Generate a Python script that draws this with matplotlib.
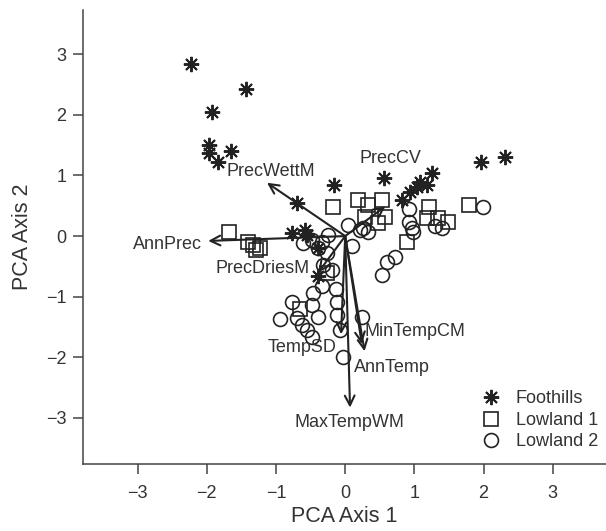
import matplotlib
matplotlib.use('Agg')
import matplotlib.pyplot as plt
from matplotlib.lines import Line2D

plt.rcParams['font.family'] = ['Liberation Sans', 'DejaVu Sans']

# PCA scores
foot_x = [-2.23, -1.43, -1.92, -1.97, -1.97, -1.84, -1.65, -0.69, -0.16, -0.77, -0.58,
          -0.55, -0.40, -0.39, 0.56, 1.97, 2.31, 1.26, 1.08, 1.04, 1.18, 0.94, 0.82]
foot_y = [2.84, 2.43, 2.05, 1.51, 1.37, 1.23, 1.41, 0.55, 0.85, 0.05, 0.10,
          0.02, -0.19, -0.66, 0.96, 1.23, 1.31, 1.04, 0.90, 0.81, 0.85, 0.73, 0.60]

low1_x = [-1.68, -1.40, -1.33, -1.23, -1.29, -0.17, 0.19, 0.53, 0.33, 0.29, 0.58,
          0.48, 0.90, 1.21, 1.18, 1.34, 1.49, 1.79, -0.26, -0.65]
low1_y = [0.07, -0.10, -0.14, -0.19, -0.23, 0.48, 0.60, 0.60, 0.52, 0.32, 0.32,
          0.22, -0.09, 0.48, 0.30, 0.30, 0.24, 0.52, -0.61, -1.21]

low2_x = [1.99, 1.30, 1.40, 0.92, 0.92, 0.97, 0.98, 0.72, 0.61, 0.53, 0.33, 0.26,
          0.04, 0.10, -0.25, -0.33, -0.39, -0.26, -0.48, -0.61, -0.19, -0.33, -0.46,
          -0.48, -0.77, -0.94, -0.69, -0.62, -0.55, -0.48, -0.40, -0.14, -0.12, -0.12,
          -0.07, -0.03, 0.25, -0.32, 0.22]
low2_y = [0.48, 0.16, 0.14, 0.45, 0.24, 0.14, 0.06, -0.34, -0.43, -0.64, 0.06, 0.14,
          0.19, -0.17, 0.02, -0.09, -0.19, -0.28, -0.06, -0.11, -0.56, -0.83, -0.94,
          -1.13, -1.08, -1.37, -1.35, -1.46, -1.55, -1.66, -1.33, -0.88, -1.08, -1.30,
          -1.55, -1.99, -1.33, -0.48, 0.10]

# variable loadings (arrow tips) and label positions
var_names = ['AnnPrec', 'PrecWettM', 'PrecDriesM', 'PrecCV', 'TempSD',
             'MinTempCM', 'AnnTemp', 'MaxTempWM']
tip_x = [-1.98, -1.13, -0.39, 0.58, -0.06, 0.24, 0.28, 0.07]
tip_y = [-0.08, 0.88, -0.60, 0.49, -1.62, -1.78, -1.90, -2.83]
lab_x = [-2.57, -1.07, -1.20, 0.66, -0.62, 1.01, 0.68, 0.06]
lab_y = [-0.14, 1.06, -0.54, 1.28, -1.83, -1.58, -2.16, -3.08]

ink = '#222222'
txt = '#333333'

fig = plt.figure(figsize=(6.06, 5.31), dpi=100)
ax = fig.add_axes([83 / 606, 1 - 464 / 531, 523 / 606, 454 / 531])

star = (8, 2, 0)
ax.plot(foot_x, foot_y, ls='none', marker=star, ms=11, mew=1.4, mec=ink, mfc='none')
ax.plot(low1_x, low1_y, ls='none', marker='s', ms=10, mew=1.2, mec=ink, mfc='none')
ax.plot(low2_x, low2_y, ls='none', marker='o', ms=10, mew=1.2, mec=ink, mfc='none')

for name, tx, ty, lx, ly in zip(var_names, tip_x, tip_y, lab_x, lab_y):
    ax.annotate('', xy=(tx, ty), xytext=(0, 0),
                arrowprops=dict(arrowstyle='->,head_length=0.7,head_width=0.35',
                                lw=1.5, color=ink, shrinkA=0, shrinkB=0))
    ax.text(lx, ly, name, ha='center', va='center', fontsize=13, color=txt)

ax.set_xlim(-3.79, 3.77)
ax.set_ylim(-3.76, 3.73)
ax.set_xticks([-3, -2, -1, 0, 1, 2, 3])
ax.set_yticks([-3, -2, -1, 0, 1, 2, 3])
for s in ['top', 'right']:
    ax.spines[s].set_visible(False)
for s in ['left', 'bottom']:
    ax.spines[s].set_color('#444444')
    ax.spines[s].set_linewidth(1.1)
ax.tick_params(direction='out', length=7, width=1.1, color='#444444',
               labelsize=13, labelcolor=txt)
ax.tick_params(axis='x', pad=8)
ax.tick_params(axis='y', pad=5)
ax.set_xlabel('PCA Axis 1', fontsize=15.5, color=txt, labelpad=3)
ax.set_ylabel('PCA Axis 2', fontsize=15.5, color=txt, labelpad=9)

handles = [
    Line2D([], [], ls='none', marker=star, ms=11, mew=1.4, mec=ink, mfc='none'),
    Line2D([], [], ls='none', marker='s', ms=10, mew=1.2, mec=ink, mfc='none'),
    Line2D([], [], ls='none', marker='o', ms=10, mew=1.2, mec=ink, mfc='none'),
]
leg = ax.legend(handles, ['Foothills', 'Lowland 1', 'Lowland 2'], frameon=False,
                loc='upper left', bbox_to_anchor=(0.762, 0.162), fontsize=13,
                handlelength=1.0, handletextpad=0.9, labelspacing=0.25,
                borderpad=0, borderaxespad=0)
for t in leg.get_texts():
    t.set_color(txt)

fig.savefig('out.png', dpi=100)
